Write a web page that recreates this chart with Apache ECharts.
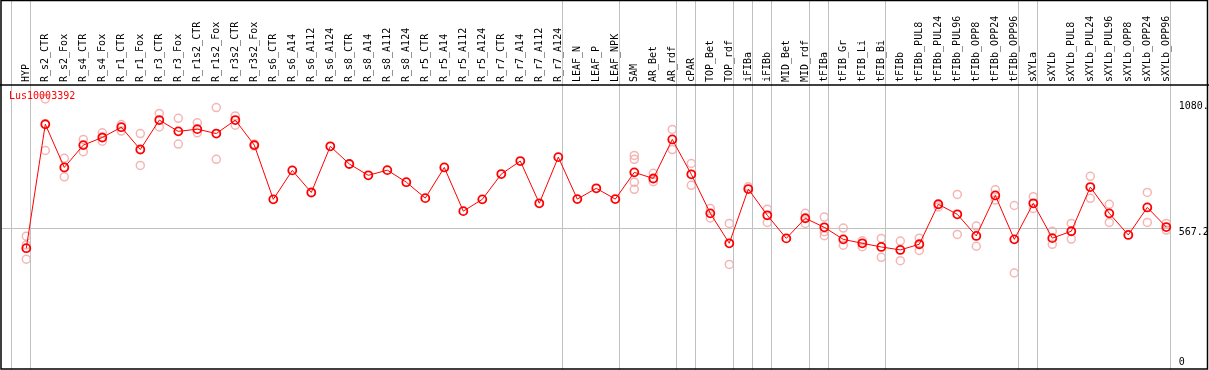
<!DOCTYPE html>
<html>
<head>
<meta charset="utf-8">
<script src="https://cdn.jsdelivr.net/npm/echarts@6/dist/echarts.min.js"></script>
<style>
html,body{margin:0;padding:0;background:#fff;}
#chart{width:1209px;height:370px;}
</style>
</head>
<body>
<div id="chart"></div>
<script>
// ---------- data ----------
const geneName = 'Lus10003392';
const categories = ['HYP','R_s2_CTR','R_s2_Fox','R_s4_CTR','R_s4_Fox','R_r1_CTR','R_r1_Fox','R_r3_CTR','R_r3_Fox','R_r1s2_CTR',
  'R_r1s2_Fox','R_r3s2_CTR','R_r3s2_Fox','R_s6_CTR','R_s6_A14','R_s6_A112','R_s6_A124','R_s8_CTR','R_s8_A14','R_s8_A112',
  'R_s8_A124','R_r5_CTR','R_r5_A14','R_r5_A112','R_r5_A124','R_r7_CTR','R_r7_A14','R_r7_A112','R_r7_A124','LEAF_N',
  'LEAF_P','LEAF_NPK','SAM','AR_Bet','AR_rdf','cPAR','TOP_Bet','TOP_rdf','iFIBa','iFIBb',
  'MID_Bet','MID_rdf','tFIBa','tFIB_Gr','tFIB_Li','tFIB_Bi','tFIBb','tFIBb_PUL8','tFIBb_PUL24','tFIBb_PUL96',
  'tFIBb_OPP8','tFIBb_OPP24','tFIBb_OPP96','sXYLa','sXYLb','sXYLb_PUL8','sXYLb_PUL24','sXYLb_PUL96','sXYLb_OPP8','sXYLb_OPP24',
  'sXYLb_OPP96'];
const meanValues = [484,989,813,904,935,977,886,1006,960,969,
  951,1006,904,683,801,711,899,827,781,802,
  753,688,813,635,683,786,839,667,855,684,
  728,684,793,768,927,785,626,504,725,618,
  524,606,569,520,504,489,477,500,663,622,
  534,699,520,667,525,553,733,626,538,650,
  570];
const repA = [533,1092,850,927,954,988,951,1033,1013,995,
  1057,1023,908,null,null,null,null,null,null,null,
  null,null,null,null,null,null,null,null,null,null,
  null,null,862,789,968,829,646,585,734,643,
  null,626,611,566,514,524,513,525,652,703,
  574,722,658,694,553,585,777,663,null,711,
  585];
const repB = [497,882,775,877,920,961,821,978,908,954,
  846,985,900,null,null,null,null,null,null,null,
  null,null,null,null,null,null,null,null,null,null,
  null,null,846,755,886,740,607,418,null,589,
  null,585,551,496,490,447,433,475,null,540,
  492,680,383,646,500,521,687,589,null,589,
  558];
const repC = categories.map(() => null); repC[0] = 439; repC[32] = 753; repC[42] = 535;
const repD = categories.map(() => null); repD[32] = 724;
// group separators: drawn after these categories ('' = before the first one)
const separatorsAfter = ['', 'HYP','R_r7_A124','LEAF_NPK','AR_rdf','cPAR','TOP_rdf','iFIBa','iFIBb','MID_rdf','tFIBa','tFIB_Bi','tFIBb_OPP96','sXYLa','sXYLb_OPP96'];
const tickValues = [1080, 567.2, 0];
const tickLabels = ['1080.', '567.2', '0'];
const yMax = 1144.8;

// ---------- layout ----------
const W = 1209, H = 370;
const G = {left: 16.8, right: 33.2, top: 86, bottom: 3};
const gw = W - G.left - G.right, gh = H - G.top - G.bottom;
const band = gw / categories.length;
const idxAt = px => (px - G.left) / band - 0.5;
const valAt = py => yMax * (1 - (py - G.top) / gh);
const sepOffset = 0.2316;
const sepPos = separatorsAfter.map(n => categories.indexOf(n) + sepOffset);
const lastSep = sepPos[sepPos.length - 1];

const font = "'DejaVu Sans Mono', monospace";
const chart = echarts.init(document.getElementById('chart'));
const repStyle = {color: 'rgba(0,0,0,0)', borderColor: '#f2a2a2', borderWidth: 1.5};
const repSeries = [repA, repB, repC, repD].map((r) => ({
  type: 'scatter', xAxisIndex: 0, yAxisIndex: 0, data: r,
  symbol: 'circle', symbolSize: 8, itemStyle: repStyle, z: 2, silent: true
}));

chart.setOption({
  animation: false,
  backgroundColor: '#fff',
  title: {text: geneName, left: 9, top: 91, padding: 0,
    textStyle: {color: '#ff0000', fontFamily: font, fontSize: 10, fontWeight: 'normal'}},
  grid: [
    {left: G.left, right: G.right, top: G.top, bottom: G.bottom},
    {left: 0, right: 0, top: 0, bottom: 0}
  ],
  xAxis: [
    {type: 'category', gridIndex: 0, data: categories, position: 'top', boundaryGap: true,
      axisLine: {show: false}, axisTick: {show: false}, splitLine: {show: false},
      axisLabel: {interval: 0, rotate: 90, margin: 4, color: '#000', fontFamily: font, fontSize: 10}},
    {type: 'value', gridIndex: 1, min: idxAt(0), max: idxAt(W), show: false}
  ],
  yAxis: [
    {type: 'value', gridIndex: 0, min: 0, max: yMax, show: false},
    {type: 'value', gridIndex: 1, min: valAt(H), max: valAt(0), show: false}
  ],
  series: [
    {
      type: 'line', xAxisIndex: 1, yAxisIndex: 1, data: [], silent: true, z: 1,
      markLine: {
        silent: true, symbol: ['none', 'none'], animation: false,
        lineStyle: {color: '#c0c0c0', width: 1, type: 'solid'},
        label: {show: false},
        data: sepPos.map(x => ({xAxis: x})).concat(tickValues.map((v, i) => [
          {coord: [idxAt(2), v],
           lineStyle: {color: v === 567.2 ? '#c0c0c0' : 'rgba(0,0,0,0)', width: 1, type: 'solid'},
           label: {show: true, position: 'end', distance: 8,
             formatter: v === 0 ? tickLabels[i] + '\n' : '\n' + tickLabels[i],
             color: '#000', fontFamily: font, fontSize: 10, lineHeight: 10}},
          {coord: [lastSep, v]}
        ]))
      }
    },
    ...repSeries,
    {
      type: 'line', name: geneName, xAxisIndex: 0, yAxisIndex: 0, data: meanValues,
      symbol: 'circle', symbolSize: 8, showAllSymbol: true,
      lineStyle: {color: '#ff0000', width: 1},
      itemStyle: {color: 'rgba(0,0,0,0)', borderColor: '#ff0000', borderWidth: 1.8}, z: 5, silent: true
    }
  ],
  graphic: [
    {type: 'rect', shape: {x: 1, y: 0.5, width: W - 2.5, height: H - 1.5}, style: {fill: 'none', stroke: '#000', lineWidth: 1.5}, z: 100, silent: true},
    {type: 'line', shape: {x1: 0, y1: 85, x2: W, y2: 85}, style: {stroke: '#000', lineWidth: 1.5}, z: 100, silent: true}
  ]
});
</script>
</body>
</html>
